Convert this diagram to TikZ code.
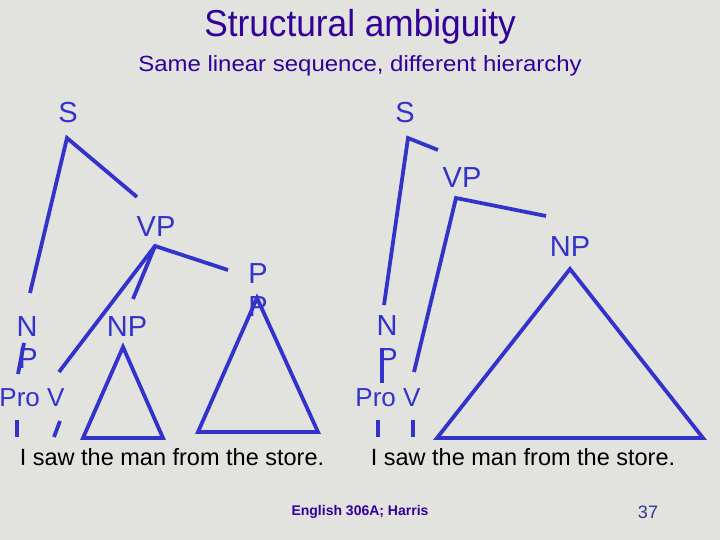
\documentclass[tikz,border=0pt]{standalone}
\usepackage{fontspec}
\setmainfont{Liberation Sans}
\usetikzlibrary{positioning}
\definecolor{slidebg}{RGB}{226,226,223}
\definecolor{treeblue}{RGB}{51,51,204}
\definecolor{titlepurple}{RGB}{51,0,153}
\definecolor{footblue}{RGB}{51,51,153}
\tikzset{
  lbl/.style={text=treeblue, inner sep=0pt, font=\fontsize{29}{29}\selectfont},
  leaf/.style={text=treeblue, inner sep=0pt, font=\fontsize{26}{26}\selectfont},
  sent/.style={text=black, inner sep=0pt, anchor=base, font=\fontsize{23.5}{23.5}\selectfont},
  branch/.style={draw=treeblue, line width=3.8pt},
  hdr/.style={text=titlepurple, inner sep=0pt, anchor=base}
}

\begin{document}
\begin{tikzpicture}[x=1pt, y=-1pt]
\fill[slidebg] (0,0) rectangle (720,540);
\useasboundingbox (0,0) rectangle (720,540);
\node[hdr, font=\fontsize{37.5}{37.5}\selectfont] (title) at (360,37) {\scalebox{0.94}[1]{Structural ambiguity}};
\node[hdr, font=\fontsize{22}{22}\selectfont] (sub) at (360,72) {\scalebox{1.09}[1]{Same linear sequence, different hierarchy}};
% left tree
\node[lbl] (sA) at (68,113) {S};
\node[lbl] (vpA) at (156,227) {VP};
\node[lbl] (ppA) at (258,274) {P};
\node[lbl, below=12pt of ppA.south, anchor=north] (ppAb) {P};
\node[lbl] (npA) at (127,327) {NP};
\node[lbl] (nA) at (27,327) {N};
\node[lbl] (nAb) at (28,359) {P};
\node[leaf] (leafA) at (32,398) {Pro V};
\node[sent] (sentA) at (172,465) {I saw the man from the store.};
\coordinate (sAtop) at (67,138); \coordinate (sAn) at (30,293); \coordinate (sAvp) at (137,197);
\coordinate (vpAtop) at (155,246); \coordinate (vpApp) at (228,270);
\coordinate (vpAnp) at (133,299); \coordinate (vpAv) at (59,372);
\coordinate (nAa) at (24,343); \coordinate (nAz) at (18,374);
\coordinate (proA1) at (17,420); \coordinate (proA2) at (17,437);
\coordinate (vA1) at (60,421); \coordinate (vA2) at (54,437);
\coordinate (npAt) at (123,347); \coordinate (npAl) at (83,438); \coordinate (npAr) at (163,438);
\coordinate (ppAt) at (257,298); \coordinate (ppAl) at (198,432); \coordinate (ppAr) at (318,432);
\draw[branch] (sAn)--(sAtop)--(sAvp); \draw[branch] (vpAv)--(vpAtop)--(vpApp); \draw[branch] (vpAtop)--(vpAnp);
\draw[branch] (nAa)--(nAz); \draw[branch] (proA1)--(proA2); \draw[branch] (vA1)--(vA2);
\draw[branch] (npAt)--(npAl)--(npAr)--cycle; \draw[branch] (ppAt)--(ppAl)--(ppAr)--cycle;
% right tree
\node[lbl] (sB) at (405,113) {S};
\node[lbl] (vpB) at (462,178) {VP};
\node[lbl] (npB) at (570,247) {NP};
\node[lbl] (nB) at (387,326) {N};
\node[lbl] (nBb) at (388,359) {P};
\node[leaf] (leafB) at (388,398) {Pro V};
\node[sent] (sentB) at (523,465) {I saw the man from the store.};
\coordinate (sBtop) at (408,138); \coordinate (sBvp) at (438,150); \coordinate (sBn) at (384,305);
\coordinate (vpBtop) at (456,198); \coordinate (vpBnp) at (546,216); \coordinate (vpBv) at (414,372);
\coordinate (nBa) at (382,348); \coordinate (nBz) at (382,383);
\coordinate (proB1) at (378,420); \coordinate (proB2) at (378,437);
\coordinate (vB1) at (413,420); \coordinate (vB2) at (413,437);
\coordinate (npBt) at (570,269); \coordinate (npBl) at (437,438); \coordinate (npBr) at (703,438);
\draw[branch] (sBn)--(sBtop)--(sBvp); \draw[branch] (vpBv)--(vpBtop)--(vpBnp);
\draw[branch] (nBa)--(nBz); \draw[branch] (proB1)--(proB2); \draw[branch] (vB1)--(vB2);
\draw[branch] (npBt)--(npBl)--(npBr)--cycle;
% footer
\node[text=titlepurple, inner sep=0pt, anchor=base, font=\bfseries\fontsize{14}{14}\selectfont] (foot) at (360,515) {English 306A; Harris};
\node[text=footblue, inner sep=0pt, anchor=base, font=\fontsize{18}{18}\selectfont] (page) at (648,518) {37};
\end{tikzpicture}
\end{document}
